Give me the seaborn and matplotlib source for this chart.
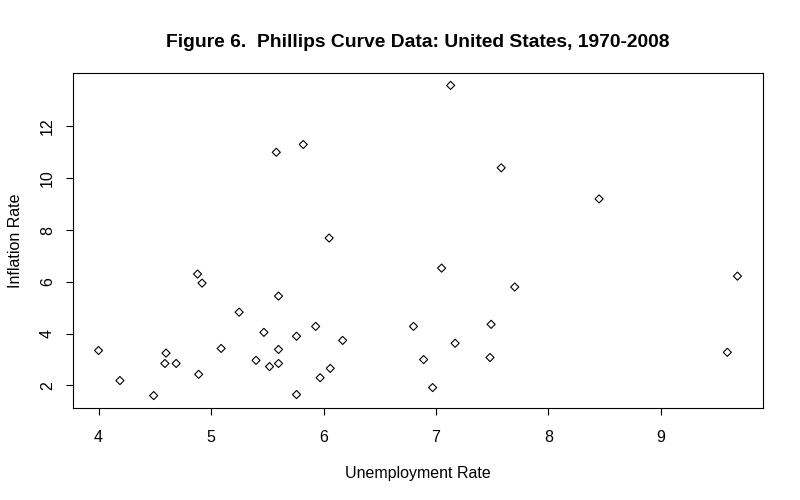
import matplotlib
matplotlib.use("Agg")
import matplotlib.pyplot as plt
import seaborn as sns
import pandas as pd

# US unemployment vs inflation, 1970-2008
years = list(range(1970, 2009))
unemployment = [4.92, 5.93, 5.60, 4.88, 5.58, 8.45, 7.70, 7.05, 6.05, 5.82,
                7.13, 7.58, 9.68, 9.59, 7.49, 7.17, 6.97, 6.17, 5.47, 5.25,
                5.60, 6.80, 7.48, 6.89, 6.06, 5.60, 5.40, 4.89, 4.49, 4.19,
                4.00, 4.69, 5.76, 5.97, 5.52, 5.09, 4.60, 4.59, 5.76]
inflation = [5.95, 4.28, 3.39, 6.30, 11.00, 9.20, 5.80, 6.53, 7.69, 11.30,
             13.58, 10.40, 6.22, 3.28, 4.36, 3.63, 1.92, 3.74, 4.05, 4.83,
             5.45, 4.28, 3.08, 3.00, 2.66, 2.85, 2.97, 2.43, 1.61, 2.19,
             3.35, 2.85, 1.65, 2.30, 2.73, 3.43, 3.25, 2.85, 3.90]

df = pd.DataFrame({"year": years, "unemp": unemployment, "infl": inflation})

sns.set_theme(style="ticks")
plt.rcParams["font.family"] = ["Liberation Sans", "DejaVu Sans"]
plt.rcParams["text.color"] = "black"
plt.rcParams["xtick.color"] = "black"
plt.rcParams["ytick.color"] = "black"
plt.rcParams["axes.labelcolor"] = "black"

fig = plt.figure(figsize=(8, 5), dpi=100)
ax = fig.add_axes([73 / 800, 1 - 408 / 500, 690 / 800, 335 / 500])

sns.scatterplot(data=df, x="unemp", y="infl", ax=ax, marker="D", s=17,
                facecolor="none", edgecolor="black", linewidth=0.8)

# R-style 4% padding
xr = max(unemployment) - min(unemployment)
yr = max(inflation) - min(inflation)
ax.set_xlim(min(unemployment) - 0.04 * xr, max(unemployment) + 0.04 * xr)
ax.set_ylim(min(inflation) - 0.04 * yr, max(inflation) + 0.04 * yr)

ax.set_xticks([4, 5, 6, 7, 8, 9])
ax.set_yticks([2, 4, 6, 8, 10, 12])
for sp in ax.spines.values():
    sp.set_visible(True)
    sp.set_color("black")
    sp.set_linewidth(0.8)
ax.tick_params(direction="out", length=5, width=0.8, color="black",
               labelsize=11.5, pad=8)
ax.tick_params(axis="x", pad=11)
for lab in ax.get_yticklabels():
    lab.set_rotation(90)
    lab.set_va("center")

ax.set_xlabel("Unemployment Rate", fontsize=11.5, labelpad=15)
ax.set_ylabel("Inflation Rate", fontsize=11.5, labelpad=12)
ax.set_title("Figure 6.  Phillips Curve Data: United States, 1970-2008",
             fontsize=13.9, fontweight="bold", pad=19)

fig.savefig("out.png", dpi=100, facecolor="white")
